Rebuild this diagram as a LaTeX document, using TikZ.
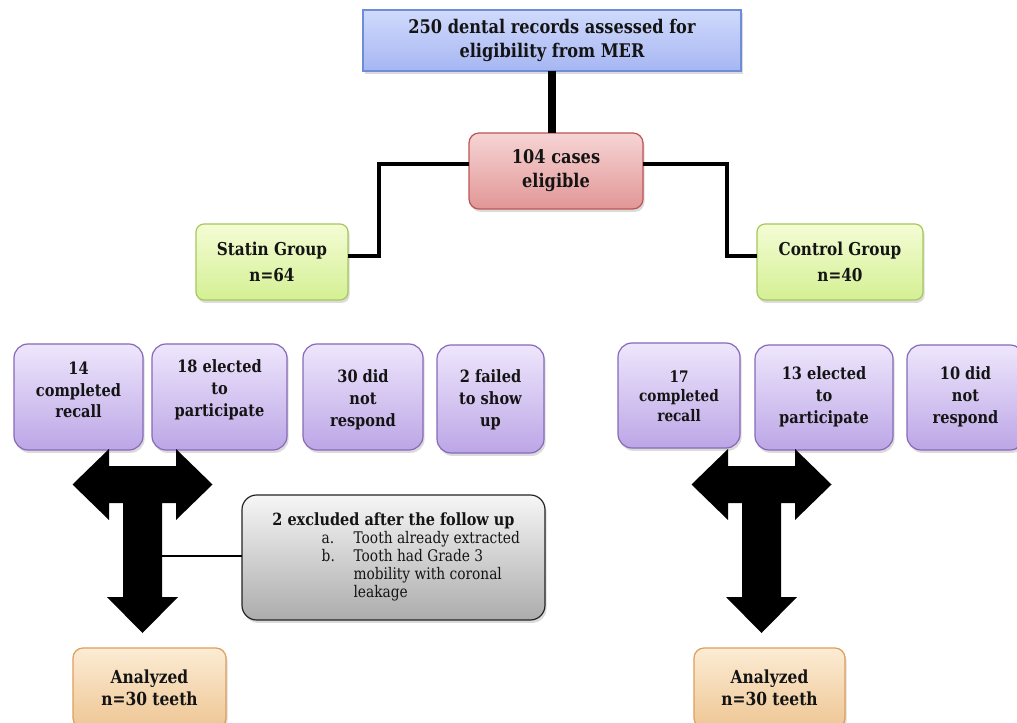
\documentclass[tikz,border=0pt]{standalone}
\usepackage{fontspec}
\setmainfont{DejaVu Serif}[FakeStretch=0.86]
\usetikzlibrary{shadows}
\definecolor{blueT}{RGB}{208,218,252}
\definecolor{blueD}{RGB}{166,182,242}
\definecolor{blueB}{RGB}{110,140,215}
\definecolor{redT}{RGB}{246,212,212}
\definecolor{redD}{RGB}{226,150,150}
\definecolor{redB}{RGB}{190,85,85}
\definecolor{grnT}{RGB}{244,252,212}
\definecolor{grnD}{RGB}{212,240,148}
\definecolor{grnB}{RGB}{165,200,90}
\definecolor{purT}{RGB}{238,230,252}
\definecolor{purD}{RGB}{188,166,230}
\definecolor{purB}{RGB}{135,105,185}
\definecolor{gryT}{RGB}{246,246,246}
\definecolor{gryD}{RGB}{172,172,172}
\definecolor{gryB}{RGB}{35,35,35}
\definecolor{orgT}{RGB}{252,236,212}
\definecolor{orgD}{RGB}{238,198,148}
\definecolor{orgB}{RGB}{222,158,92}
\definecolor{txt}{RGB}{20,20,20}
\tikzset{
  pw/.style={minimum width=#1*0.75pt},
  ph/.style={minimum height=#1*0.75pt},
  bx/.style={draw, inner sep=0pt, outer sep=0pt, line width=0.9pt, text=txt,
    drop shadow={shadow xshift=1.2pt, shadow yshift=-2.2pt, opacity=0.28}},
  bluebox/.style={bx, draw=blueB, line width=1.2pt, top color=blueT, bottom color=blueD},
  redbox/.style={bx, draw=redB, top color=redT, bottom color=redD, rounded corners=7.5pt},
  grnbox/.style={bx, draw=grnB, top color=grnT, bottom color=grnD, rounded corners=6pt},
  purbox/.style={bx, draw=purB, top color=purT, bottom color=purD, rounded corners=10.5pt},
  grybox/.style={bx, draw=gryB, top color=gryT, bottom color=gryD, rounded corners=11pt},
  orgbox/.style={bx, draw=orgB, top color=orgT, bottom color=orgD, rounded corners=7.5pt},
  bigtxt/.style={align=center, font=\fontsize{14.1pt}{18pt}\selectfont\bfseries},
  grptxt/.style={align=center, font=\fontsize{13.3pt}{19.5pt}\selectfont\bfseries},
  anatxt/.style={align=center, font=\fontsize{13.5pt}{16.5pt}\selectfont\bfseries},
  ptxt/.style={align=center, inner sep=0pt, text=txt, font=\fontsize{12.7pt}{16.3pt}\selectfont\bfseries},
  smptxt/.style={align=center, inner sep=0pt, text=txt, font=\fontsize{11.9pt}{14.5pt}\selectfont\bfseries},
  thickline/.style={line width=6pt, black},
  elbow/.style={line width=3.4pt, black},
  thinline/.style={line width=1.5pt, black}
}
\newcommand\tshape{%
  (-33.5,-18.5) -- (33.5,-18.5) -- (33.5,-35.5) -- (70,0) -- (33.5,35.5)
  -- (33.5,18.5) -- (19.5,18.5) -- (19.5,112.5) -- (35.5,112.5) -- (0,148.5)
  -- (-35.5,112.5) -- (-19.5,112.5) -- (-19.5,18.5) -- (-33.5,18.5) -- (-33.5,35.5)
  -- (-70,0) -- (-33.5,-35.5) -- cycle}
\begin{document}
\begin{tikzpicture}[x=0.75pt,y=-0.75pt]
\useasboundingbox (0,0) rectangle (1017,723);
\fill[white] (0,0) rectangle (1017,723);
\clip (0,0) rectangle (1017,723);

% top level
\node[bluebox, pw=378, ph=61, bigtxt] (tb) at (552,40.5)
  {250 dental records assessed for\\eligibility from MER};
\node[redbox, pw=174, ph=76, bigtxt] (el) at (556,171) {104 cases\\eligible};
\node[grnbox, pw=152, ph=76, grptxt] (st) at (272,262) {Statin Group\\n=64};
\node[grnbox, pw=166, ph=76, grptxt] (co) at (840,262) {Control Group\\n=40};

\draw[thickline] (tb.south) -- (tb.south |- el.north);
\coordinate (lk) at (379,210);
\coordinate (rk) at (727,210);
\draw[elbow] ([yshift=5.25pt]el.west) -| (lk) |- ([yshift=4.5pt]st.east);
\draw[elbow] ([yshift=5.25pt]el.east) -| (rk) |- ([yshift=4.5pt]co.west);

% statin side
\node[purbox, pw=129, ph=106] (p1) at (78.5,397) {};
\node[ptxt] (p1t) at (78.5,390) {14\\completed\\recall};
\node[purbox, pw=135, ph=106] (p2) at (219.5,397) {};
\node[ptxt] (p2t) at (219.5,390) {18 elected\\to\\participate};
\node[purbox, pw=120, ph=106] (p3) at (363,397) {};
\node[ptxt] (p3t) at (363,400) {30 did\\not\\respond};
\node[purbox, pw=107, ph=108] (p4) at (490.5,399) {};
\node[ptxt] (p4t) at (490.5,400) {2 failed\\to show\\up};

% control side
\node[purbox, pw=122, ph=105] (q1) at (679,395.5) {};
\node[smptxt] (q1t) at (679,396) {17\\completed\\recall};
\node[purbox, pw=138, ph=105] (q2) at (824,397.5) {};
\node[ptxt] (q2t) at (824,397) {13 elected\\to\\participate};
\node[purbox, pw=117, ph=105] (q3) at (965.5,397.5) {};
\node[ptxt] (q3t) at (965.5,397) {10 did\\not\\respond};

% T arrows
\begin{scope}[shift={(142.5,484.5)}]
  \fill[black] \tshape;
\end{scope}
\begin{scope}[shift={(761.5,484.5)}]
  \fill[black] \tshape;
\end{scope}

% exclusion box
\node[grybox, pw=303, ph=125] (ex) at (393.5,557.5)
  {\fontsize{12pt}{13.5pt}\selectfont
   \begin{tabular}{@{}p{41pt}@{}l@{\hspace{14pt}}l@{}}
   \multicolumn{3}{@{}c@{}}{\fontsize{12.6pt}{13.5pt}\selectfont\bfseries 2 excluded after the follow up}\\
   & a. & Tooth already extracted\\
   & b. & Tooth had Grade 3\\
   & & mobility with coronal\\
   & & leakage
   \end{tabular}};
\coordinate (stem) at (162,556);
\draw[thinline] (stem) -- (stem -| ex.west);

% analyzed
\node[orgbox, pw=153, ph=80, anatxt] (a1) at (149.5,688) {Analyzed\\n=30 teeth};
\node[orgbox, pw=151, ph=80, anatxt] (a2) at (769.5,688) {Analyzed\\n=30 teeth};
\end{tikzpicture}
\end{document}
